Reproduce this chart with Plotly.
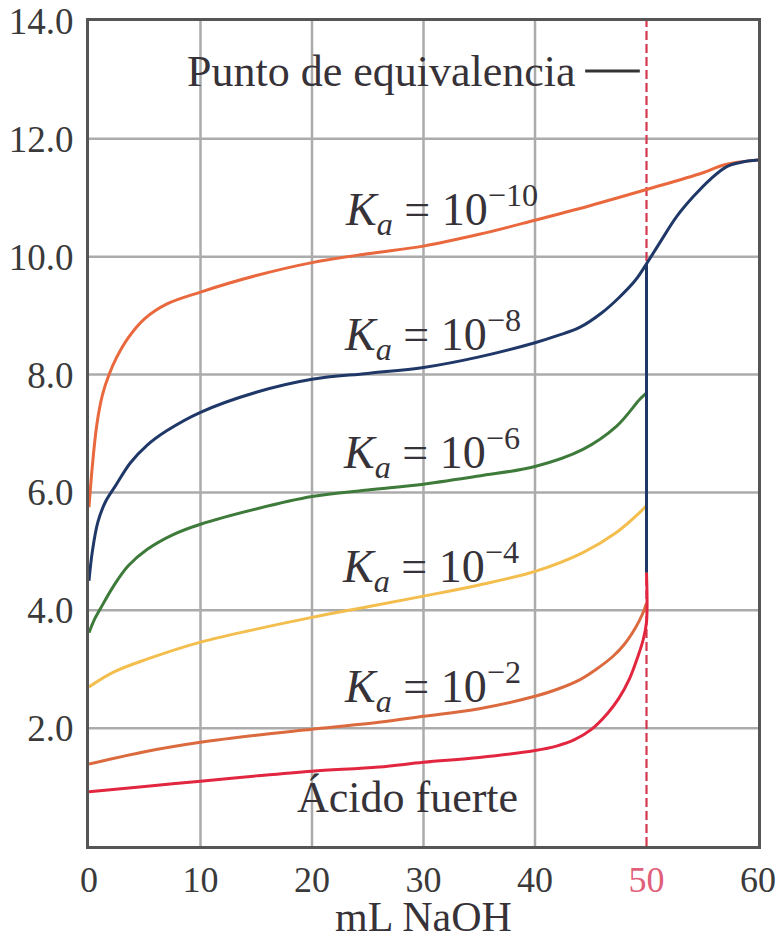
import plotly.graph_objects as go

# ---- data ----
x_ka10 = [0, 0.3, 0.7, 1.2, 1.8, 2.5, 3.5, 5, 7, 10, 15, 20, 25, 30, 35, 40, 45, 50, 55, 57, 60]
ph_ka10 = [5.75, 6.45, 7.15, 7.65, 8.0, 8.3, 8.62, 8.95, 9.2, 9.4, 9.68, 9.9, 10.05, 10.18, 10.38, 10.62, 10.87, 11.14, 11.42, 11.56, 11.64]

x_ka8 = [0, 0.3, 0.8, 1.5, 2.4, 3.7, 5.2, 7, 10, 15, 20, 25, 30, 35, 40, 42, 44, 46, 47.5, 49, 50, 51.2, 52.7, 54.2, 55.7, 57.2, 58.7, 60]
ph_ka8 = [4.5, 5.0, 5.5, 5.85, 6.12, 6.5, 6.8, 7.05, 7.36, 7.7, 7.92, 8.02, 8.12, 8.3, 8.54, 8.66, 8.8, 9.05, 9.3, 9.6, 9.88, 10.24, 10.68, 11.02, 11.31, 11.53, 11.61, 11.64]

x_jump = [50, 50]
ph_jump = [4.64, 9.88]

x_ka6 = [0, 0.5, 1, 2.2, 3.5, 5.2, 7.5, 10, 15, 20, 25, 30, 35, 40, 44.3, 47.3, 49.4, 50]
ph_ka6 = [3.62, 3.85, 4.02, 4.41, 4.75, 5.03, 5.28, 5.46, 5.72, 5.93, 6.04, 6.14, 6.28, 6.44, 6.73, 7.12, 7.58, 7.69]

x_ka4 = [0, 2.2, 5.2, 10, 15, 20, 25, 30, 35, 40, 44.3, 47.3, 49.4, 50]
ph_ka4 = [2.7, 2.95, 3.17, 3.46, 3.68, 3.88, 4.06, 4.24, 4.43, 4.66, 4.98, 5.32, 5.66, 5.78]

x_ka2 = [0, 5, 10, 15, 20, 26, 30, 35, 40, 42, 44, 45.5, 47, 48, 49, 49.6, 50]
ph_ka2 = [1.39, 1.6, 1.76, 1.88, 1.98, 2.1, 2.2, 2.33, 2.54, 2.66, 2.82, 3.0, 3.22, 3.42, 3.7, 3.92, 4.12]

x_strong = [0, 5, 10, 15, 20, 26, 30, 35, 40, 42, 43.5, 45, 46.5, 47.5, 48.5, 49.2, 49.7, 50, 50]
ph_strong = [0.92, 1.01, 1.1, 1.19, 1.27, 1.34, 1.42, 1.5, 1.62, 1.7, 1.8, 1.97, 2.25, 2.5, 2.85, 3.2, 3.5, 3.8, 4.64]

equiv_x = 50
x_grid = [10, 20, 30, 40]
y_grid = [2, 4, 6, 8, 10, 12]
x_ticks = [0, 10, 20, 30, 40, 50, 60]
y_ticks = [2, 4, 6, 8, 10, 12, 14]
y_ticktext = ["2.0", "4.0", "6.0", "8.0", "10.0", "12.0", "14.0"]

labels = ["<i>K</i><sub><i>a</i></sub> = 10<sup>\u221210</sup>",
          "<i>K</i><sub><i>a</i></sub> = 10<sup>\u22128</sup>",
          "<i>K</i><sub><i>a</i></sub> = 10<sup>\u22126</sup>",
          "<i>K</i><sub><i>a</i></sub> = 10<sup>\u22124</sup>",
          "<i>K</i><sub><i>a</i></sub> = 10<sup>\u22122</sup>",
          "\u00c1cido fuerte"]
label_x = [31.6, 30.8, 30.7, 30.6, 30.8, 28.6]
label_y = [10.80, 8.68, 6.68, 4.75, 2.70, 0.83]
label_size = [46, 46, 46, 46, 46, 44]

FONT = "Liberation Serif"
TXT = "#363238"

fig = go.Figure()

# dashed equivalence line
fig.add_trace(go.Scatter(x=[equiv_x, equiv_x], y=[0, 14], mode="lines",
                         line=dict(color="#D2384E", width=2.2, dash="9px,4px"),
                         hoverinfo="skip", showlegend=False))

def curve(x, y, color):
    fig.add_trace(go.Scatter(x=x, y=y, mode="lines",
                             line=dict(color=color, width=3, shape="spline", smoothing=1.0),
                             showlegend=False))

curve(x_ka4, ph_ka4, "#F3BE4E")
curve(x_ka6, ph_ka6, "#3E7A3A")
curve(x_ka2, ph_ka2, "#DB6A3F")
curve(x_strong, ph_strong, "#E2263F")
curve(x_ka10, ph_ka10, "#E9683D")
curve(x_ka8, ph_ka8, "#1F3868")
fig.add_trace(go.Scatter(x=x_jump, y=ph_jump, mode="lines",
                         line=dict(color="#1F3868", width=3), showlegend=False))

shapes = []
for gx in x_grid:
    shapes.append(dict(type="line", xref="x", yref="y", x0=gx, x1=gx, y0=0, y1=14,
                       line=dict(color="#ABABAB", width=2.5), layer="below"))
for gy in y_grid:
    shapes.append(dict(type="line", xref="x", yref="y", x0=0, x1=60, y0=gy, y1=gy,
                       line=dict(color="#ABABAB", width=2.5), layer="below"))
# pointer line of "Punto de equivalencia"
shapes.append(dict(type="line", xref="x", yref="y", x0=44.5, x1=49.4, y0=13.15, y1=13.15,
                   line=dict(color="#333333", width=3)))

annotations = []
for t, ax_, ay_, sz in zip(labels, label_x, label_y, label_size):
    annotations.append(dict(text=t, x=ax_, y=ay_, xref="x", yref="y", showarrow=False,
                            xanchor="center", yanchor="middle",
                            font=dict(family=FONT, size=sz, color=TXT)))
annotations.append(dict(text="Punto de equivalencia", x=43.9, y=13.15, xref="x", yref="y",
                        showarrow=False, xanchor="right", yanchor="middle",
                        font=dict(family=FONT, size=44, color=TXT)))
annotations.append(dict(text="mL NaOH", x=0.5, y=-0.086, xref="paper", yref="paper",
                        showarrow=False, xanchor="center", yanchor="middle",
                        font=dict(family=FONT, size=42, color=TXT)))

x_ticktext = [f"<span style='color:#E0607A'>{v}</span>" if v == equiv_x else str(v) for v in x_ticks]

fig.update_layout(
    width=783, height=939,
    margin=dict(l=89, r=25, t=21, b=93, autoexpand=False),
    paper_bgcolor="white", plot_bgcolor="white",
    shapes=shapes, annotations=annotations,
    xaxis=dict(range=[0, 60], tickvals=x_ticks, ticktext=x_ticktext, showgrid=False,
               zeroline=False, showline=True, mirror=True, linecolor="#555555", linewidth=3,
               ticks="", automargin=False,
               tickfont=dict(family=FONT, size=36, color="#3a3a3a")),
    yaxis=dict(range=[0, 14], tickvals=y_ticks, ticktext=y_ticktext, showgrid=False,
               zeroline=False, showline=True, mirror=True, linecolor="#555555", linewidth=3,
               ticks="outside", ticklen=5, tickcolor="rgba(0,0,0,0)", automargin=False,
               tickfont=dict(family=FONT, size=37, color="#3a3a3a")),
)

fig.write_html("out.html", config={"displayModeBar": False},
               post_script="document.body.style.margin='0';")
